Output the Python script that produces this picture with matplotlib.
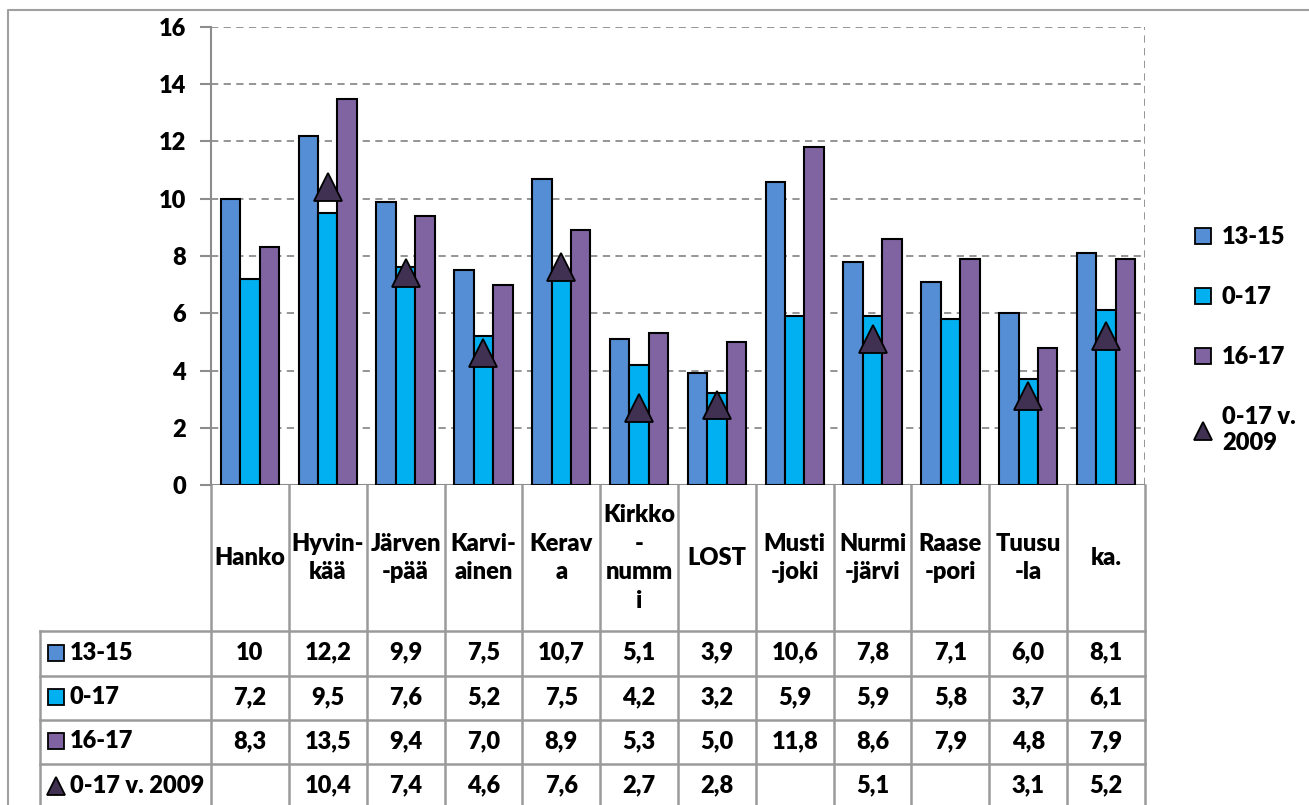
import matplotlib
matplotlib.use("Agg")
import matplotlib.pyplot as plt
import matplotlib.transforms as mtransforms
from matplotlib.lines import Line2D
import numpy as np

plt.rcParams['font.family'] = ['Lato', 'DejaVu Sans']
plt.rcParams['font.weight'] = 'heavy'

categories = ["Hanko", "Hyvin-\nkää", "Järven\n-pää", "Karvi-\nainen", "Kerav\na",
              "Kirkko\n-\nnumm\ni", "LOST", "Musti\n-joki", "Nurmi\n-järvi",
              "Raase\n-pori", "Tuusu\n-la", "ka."]
s_13_15 = [10, 12.2, 9.9, 7.5, 10.7, 5.1, 3.9, 10.6, 7.8, 7.1, 6.0, 8.1]
s_0_17 = [7.2, 9.5, 7.6, 5.2, 7.5, 4.2, 3.2, 5.9, 5.9, 5.8, 3.7, 6.1]
s_16_17 = [8.3, 13.5, 9.4, 7.0, 8.9, 5.3, 5.0, 11.8, 8.6, 7.9, 4.8, 7.9]
s_2009 = [None, 10.4, 7.4, 4.6, 7.6, 2.7, 2.8, None, 5.1, None, 3.1, 5.2]
series_names = ["13-15", "0-17", "16-17", "0-17 v. 2009"]
legend_labels = ["13-15", "0-17", "16-17", "0-17 v.\n2009"]
yticks = [0, 2, 4, 6, 8, 10, 12, 14, 16]

c1, c2, c3, c4 = "#558ED5", "#00B0F0", "#8064A2", "#403152"
grid_c = "#8C8C8C"
tab_c = "#9A9A9A"
FS = 17
FW = 'heavy'

W, H = 1309, 805
fig = plt.figure(figsize=(W / 100, H / 100), dpi=100)

# overlay in pixel coords for frame/table lines
ov = fig.add_axes([0, 0, 1, 1], zorder=0)
ov.set_xlim(0, W)
ov.set_ylim(H, 0)
ov.axis('off')

ax = fig.add_axes([211 / W, 1 - 485 / H, 934 / W, 458 / H], zorder=2)
ax.patch.set_alpha(0)
n = len(categories)
x = np.arange(n)
bw = 0.25
kw = dict(edgecolor='black', linewidth=1.5, zorder=3)
ax.bar(x - bw, s_13_15, bw, color=c1, **kw)
ax.bar(x, s_0_17, bw, color=c2, **kw)
ax.bar(x + bw, s_16_17, bw, color=c3, **kw)
tx = [i for i, v in enumerate(s_2009) if v is not None]
ty = [v for v in s_2009 if v is not None]
ax.plot(tx, ty, linestyle='none', marker='^', markersize=19.5, markerfacecolor=c4,
        markeredgecolor='black', markeredgewidth=1.3, zorder=4)

ax.set_xlim(-0.5, n - 0.5)
ax.set_ylim(0, 16)
ax.set_yticks(yticks)
ax.set_yticklabels([str(t) for t in yticks], fontsize=FS, fontweight=FW)
ax.set_xticks([])
ax.tick_params(axis='y', length=8, width=1.5, color=grid_c, pad=10)
for sp in ['top', 'right', 'bottom']:
    ax.spines[sp].set_visible(False)
ax.spines['left'].set_color(grid_c)
ax.spines['left'].set_linewidth(1.5)
for t in yticks[1:]:
    ax.axhline(t, color=grid_c, linestyle=(0, (4, 3)), linewidth=1.3, zorder=1)
ax.axhline(0, color=grid_c, linewidth=1.5, zorder=1)
ax.axvline(n - 0.5, color=grid_c, linestyle=(0, (4, 3)), linewidth=1.3, zorder=1)

# outer chart frame
ov.plot([8, 8, W + 5], [H + 5, 10, 10], color="#A0A0A0", linewidth=1.5)

# data table
blend = mtransforms.blended_transform_factory(ax.transData, ov.transData)
row_tops = [631, 676, 720, 764, 809]
left_x = 40
right_px = 1145
for b in np.arange(-0.5, n, 1.0):
    ov.plot([b, b], [485, H + 5], color=tab_c, linewidth=1.8, transform=blend, clip_on=False)
ov.plot([left_x, left_x], [row_tops[0], H + 5], color=tab_c, linewidth=1.8)
for yy in row_tops[:-1]:
    ov.plot([left_x, right_px], [yy, yy], color=tab_c, linewidth=1.8)

for i, cat in enumerate(categories):
    ov.text(i, 558, cat, transform=blend, ha='center', va='center', fontsize=FS,
            fontweight=FW, linespacing=1.38)

def fmt(v):
    if v is None:
        return ""
    if isinstance(v, int):
        return str(v)
    return f"{v:.1f}".replace('.', ',')

rows = [s_13_15, s_0_17, s_16_17, s_2009]
colors = [c1, c2, c3, c4]
markers = ['s', 's', 's', '^']
for r, (vals, name, col, mk) in enumerate(zip(rows, series_names, colors, markers)):
    yc = (row_tops[r] + row_tops[r + 1]) / 2 - 1
    ov.plot([56], [yc], marker=mk, markersize=11 if mk == 's' else 13,
            markerfacecolor=col, markeredgecolor='black', markeredgewidth=1.3,
            linestyle='none')
    ov.text(70, yc, name, ha='left', va='center', fontsize=FS, fontweight=FW)
    for i, v in enumerate(vals):
        ov.text(i, yc, fmt(v), transform=blend, ha='center', va='center',
                fontsize=FS, fontweight=FW)

# legend
def h(mk, col):
    return Line2D([], [], linestyle='none', marker=mk, markersize=11 if mk == 's' else 13,
                  markerfacecolor=col, markeredgecolor='black', markeredgewidth=1.3)

handles = [h(m, c) for m, c in zip(markers, colors)]
leg = fig.legend(handles, legend_labels, loc='upper left',
                 bbox_to_anchor=(1184 / W, 1 - 217 / H), frameon=False,
                 prop={'size': FS, 'weight': FW}, labelspacing=1.6,
                 handlelength=0.8, handletextpad=0.4, borderaxespad=0)
for t in leg.get_texts():
    t.set_linespacing(1.25)

fig.savefig("out.png", dpi=100)
